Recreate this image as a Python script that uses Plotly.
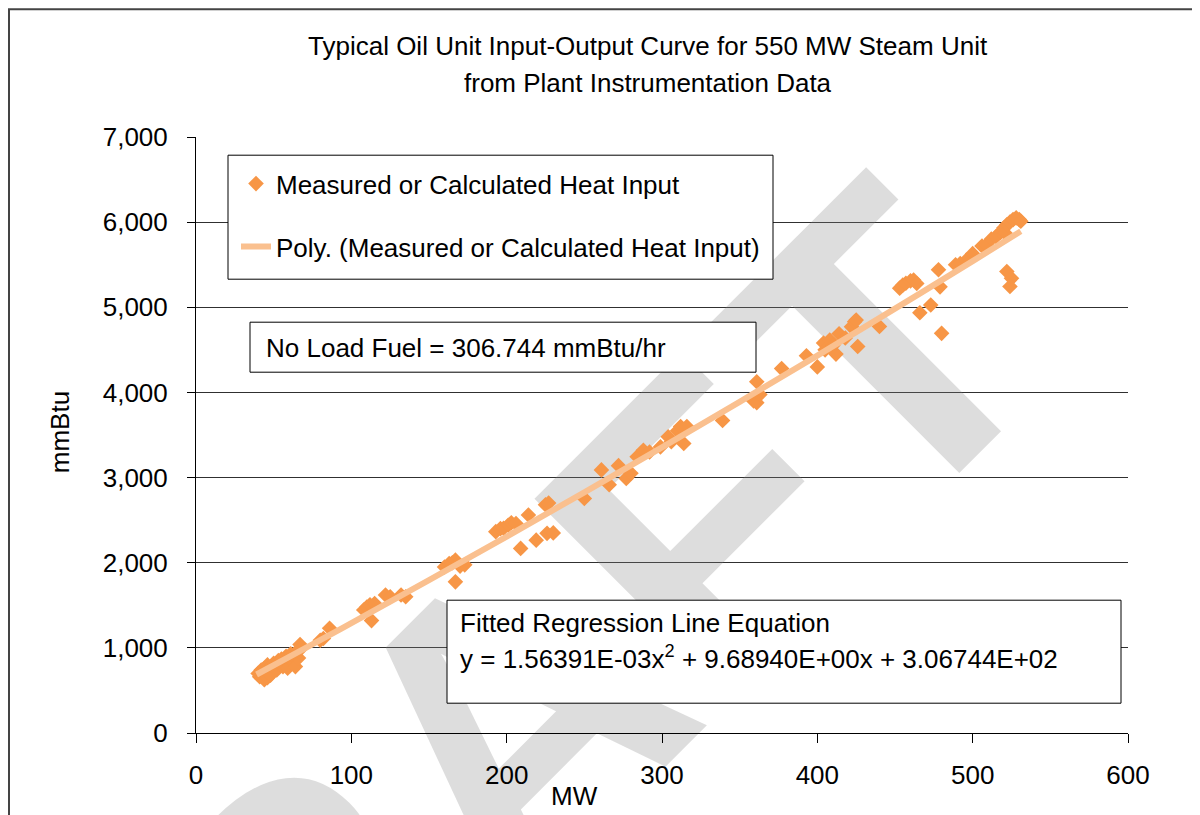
import plotly.graph_objects as go

# ---- data ----
mw = [40, 41, 42, 43, 44, 44, 45, 46, 46, 47, 48, 49, 50, 51, 52, 53, 54, 55, 56, 57, 58, 59, 60, 61, 62, 63, 64, 65, 66, 67, 68,
      80, 82, 86,
      108, 110, 112, 113, 115,
      122, 125, 132, 135,
      160, 163, 165, 167, 167, 170, 173,
      193, 196, 198, 201, 203, 206, 209, 214, 219, 225, 227, 226, 230,
      250, 261, 266, 272, 277, 280,
      284, 288, 292, 299, 304, 306, 310, 312, 314, 316, 339,
      359, 361, 361, 363, 377, 393, 400, 404, 405, 408, 410, 412, 414, 418, 422, 424, 425, 426, 440,
      453, 455, 457, 460, 462, 464, 466, 473, 478, 479, 480,
      489, 492, 496, 500, 506, 509, 512, 515, 518, 520, 521, 522, 524, 526, 528, 530, 531, 522, 525, 524]
heat = [700, 660, 740, 690, 625, 760, 720, 650, 800, 760, 680, 790, 820, 790, 740, 850, 800, 870, 780, 840, 900, 760, 880, 930, 850, 900, 780, 960, 880, 1040, 1000,
        1090, 1110, 1230,
        1445, 1480, 1505, 1320, 1520,
        1620, 1600, 1620, 1600,
        1950, 1990, 2000, 2030, 1775, 1960, 1975,
        2365, 2400, 2405, 2440, 2470, 2460, 2168, 2560, 2265, 2680, 2700, 2345, 2350,
        2755, 3090, 2915, 3140, 2990, 3050,
        3245, 3320, 3300, 3360, 3480, 3420, 3550, 3600, 3400, 3600, 3670,
        3900, 3880, 4125, 3975, 4280, 4430, 4300, 4580, 4500, 4615, 4550, 4450, 4690, 4640, 4770, 4830, 4850, 4540, 4775,
        5225, 5260, 5282, 5310, 5320, 5280, 4935, 5027, 5440, 5240, 4694,
        5500, 5515, 5555, 5630, 5720, 5730, 5800, 5830, 5880, 5930, 5870, 5970, 6000, 6030, 6050, 6030, 6010, 5420, 5340, 5245]

trend_mw = [39, 60, 100, 150, 200, 250, 300, 350, 400, 450, 500, 531]
trend_heat = [687, 894, 1291, 1795, 2307, 2827, 3354, 3890, 4433, 4984, 5542, 5893]

x_ticks = [0, 100, 200, 300, 400, 500, 600]
y_ticks = [0, 1000, 2000, 3000, 4000, 5000, 6000, 7000]
y_ticklabels = ["0", "1,000", "2,000", "3,000", "4,000", "5,000", "6,000", "7,000"]

title_lines = ["Typical Oil Unit Input-Output Curve for 550 MW Steam Unit",
               "from Plant Instrumentation Data"]
series_name = "Measured or Calculated Heat Input"
trend_name = "Poly. (Measured or Calculated Heat Input)"
no_load_text = "No Load Fuel = 306.744 mmBtu/hr"
eq_line1 = "Fitted Regression Line Equation"
eq_line2 = "y = 1.56391E-03x<sup>2</sup> + 9.68940E+00x + 3.06744E+02"
watermark = "DRAFT"

FONT = "Liberation Sans, Arial, sans-serif"
FS = 26
ORANGE = "#F79646"
LIGHT = "#FAC08F"

# figure margins (the page adds an 8px body offset)
L, T = 188, 129
W, H = 932, 596
R = 1200 - L - W
B = 815 - T - H

# screen-pixel -> paper helpers (screen coordinates of the rendered page)
X0, Y0 = 196, 732.8


def px(x):
    return (x - X0) / W


def py(y):
    return (Y0 - y) / H


fig = go.Figure()

# watermark (light grey text drawn beneath the data); the helper bar is
# invisible and only carries the rotated text, centred at heat = -249
fig.add_trace(go.Bar(
    x=[181], y=[518], base=[-508], width=[1],
    marker=dict(color="rgba(0,0,0,0)", line=dict(width=0)),
    text=[watermark], textposition="inside", insidetextanchor="middle",
    textangle=-45, constraintext="none", cliponaxis=False,
    textfont=dict(family="Liberation Sans, Arial", size=410,
                  color="rgba(130,130,130,0.27)", weight="bold"),
    hoverinfo="skip", showlegend=False,
))

fig.add_trace(go.Scatter(
    x=mw, y=heat, mode="markers", name=series_name,
    legendgroup="a",
    marker=dict(symbol="diamond", size=12, color=ORANGE, line=dict(width=0)),
))
fig.add_trace(go.Scatter(
    x=trend_mw, y=trend_heat, mode="lines", name=trend_name,
    legendgroup="b",
    line=dict(color=LIGHT, width=6, shape="spline"),
))

fig.update_xaxes(
    range=[0, 600], tickvals=x_ticks, ticks="outside", ticklen=9, tickwidth=1,
    tickcolor="#000", showline=True, linecolor="#000", linewidth=1,
    showgrid=False, zeroline=False, ticklabelstandoff=10,
    tickfont=dict(family=FONT, size=FS, color="#000"),
)
fig.update_yaxes(
    range=[0, 7000], tickvals=y_ticks, ticktext=y_ticklabels, ticks="outside",
    ticklen=8, tickwidth=1, tickcolor="#000", showline=True, linecolor="#000",
    linewidth=1, showgrid=True, gridcolor="#303030", gridwidth=1, zeroline=False,
    ticklabelstandoff=14,
    tickfont=dict(family=FONT, size=FS, color="#000"),
)

shapes = [
    # outer chart border
    dict(type="rect", xref="paper", yref="paper", x0=px(9), x1=px(1194), y0=py(840), y1=py(9),
         line=dict(color="#444", width=2), fillcolor="rgba(0,0,0,0)", layer="above"),
    # legend box
    dict(type="rect", xref="paper", yref="paper", x0=px(228), x1=px(773), y0=py(279), y1=py(155),
         line=dict(color="#000", width=1), fillcolor="white", layer="above"),
    # no-load box
    dict(type="rect", xref="paper", yref="paper", x0=px(250), x1=px(756), y0=py(372), y1=py(322),
         line=dict(color="#000", width=1), fillcolor="white", layer="above"),
    # equation box
    dict(type="rect", xref="paper", yref="paper", x0=px(447), x1=px(1121), y0=py(703), y1=py(600),
         line=dict(color="#000", width=1), fillcolor="white", layer="above"),
]

annotations = [
    dict(text=title_lines[0], x=px(648), y=py(46), xanchor="center", yanchor="middle"),
    dict(text=title_lines[1], x=px(648), y=py(83), xanchor="center", yanchor="middle"),
    dict(text="mmBtu", x=px(60), y=py(432), xanchor="center", yanchor="middle", textangle=-90),
    dict(text="MW", x=px(574), y=py(796), xanchor="center", yanchor="middle"),
    dict(text=no_load_text, x=px(264), y=py(348), xanchor="left", yanchor="middle"),
    dict(text=eq_line1, x=px(458), y=py(623), xanchor="left", yanchor="middle"),
    dict(text=eq_line2, x=px(458), y=py(657), xanchor="left", yanchor="middle"),
]
for a in annotations:
    a.update(xref="paper", yref="paper", showarrow=False,
             font=dict(family=FONT, size=FS, color="#000"))

fig.update_layout(
    width=1200, height=815,
    margin=dict(l=L, r=R, t=T, b=B, pad=0),
    paper_bgcolor="white", plot_bgcolor="white",
    shapes=shapes, annotations=annotations,
    showlegend=True,
    legend=dict(
        x=px(236), y=py(160), xanchor="left", yanchor="top",
        bgcolor="rgba(0,0,0,0)", borderwidth=0,
        font=dict(family=FONT, size=FS, color="#000"),
        traceorder="grouped", tracegroupgap=26, itemwidth=30,
    ),
)

fig.write_html("out.html")
